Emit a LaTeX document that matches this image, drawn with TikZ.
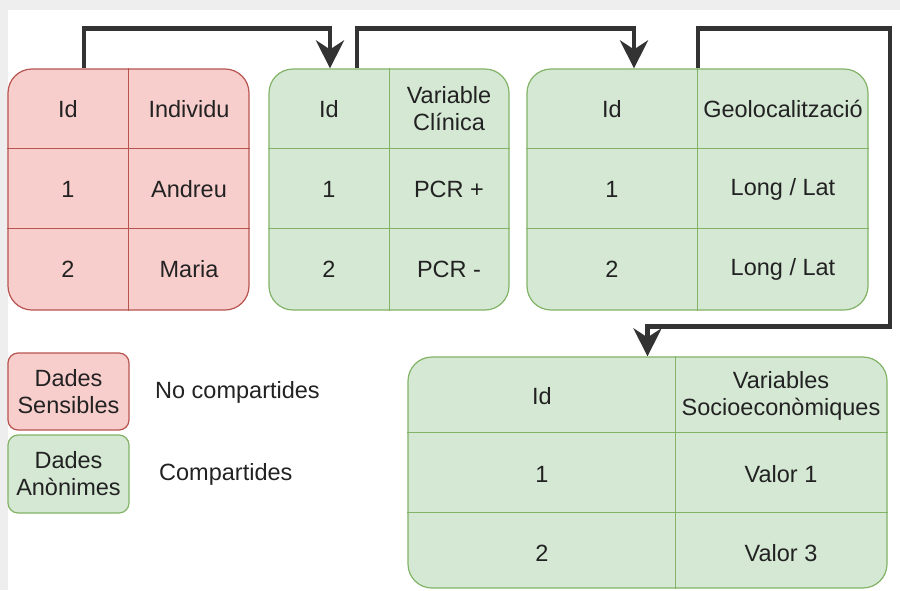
\documentclass[tikz,border=0pt]{standalone}
\usepackage{fontspec}
\setmainfont{Liberation Sans}
\usetikzlibrary{arrows.meta}
\definecolor{sensfill}{HTML}{F8CECC}
\definecolor{sensline}{HTML}{B85450}
\definecolor{anonfill}{HTML}{D5E8D4}
\definecolor{anonline}{HTML}{82B366}
\definecolor{linkgray}{HTML}{333333}
\definecolor{txtgray}{HTML}{222222}
\definecolor{bggray}{HTML}{EEEEEE}
\tikzset{
  tbl/.style={draw, rounded corners=24pt, line width=1.2pt, inner sep=0pt},
  sens/.style={tbl, fill=sensfill, draw=sensline},
  anon/.style={tbl, fill=anonfill, draw=anonline},
  cell/.style={font=\fontsize{23.5}{27}\selectfont, text=txtgray, align=center, inner sep=0pt},
  link/.style={line width=4.5pt, draw=linkgray, -{Stealth[length=28pt,width=28pt,inset=9pt]}}
}
\begin{document}
\begin{tikzpicture}[x=1pt,y=-1pt]
\useasboundingbox (0,0) rectangle (900,590);
\fill[bggray] (0,0) rectangle (900,590);
\fill[white] (8,10) rectangle (900,590);

% tables
\node[sens, minimum width=241pt, minimum height=241pt] (t1) at (128.5,189.5) {};
\node[anon, minimum width=240pt, minimum height=241pt] (t2) at (389,189.5) {};
\node[anon, minimum width=341pt, minimum height=241pt] (t3) at (697.5,189.5) {};
\node[anon, minimum width=479pt, minimum height=231pt] (t4) at (647.5,472.5) {};

% grid lines
\draw[sensline, line width=1pt] ([xshift=121pt]t1.north west) -- ([xshift=121pt]t1.south west);
\foreach \r in {80,160}
  \draw[sensline, line width=1pt] ([yshift=-\r pt]t1.north west) -- ([yshift=-\r pt]t1.north east);
\draw[anonline, line width=1pt] (t2.north) -- (t2.south);
\foreach \r in {80,160}
  \draw[anonline, line width=1pt] ([yshift=-\r pt]t2.north west) -- ([yshift=-\r pt]t2.north east);
\draw[anonline, line width=1pt] ([xshift=171pt]t3.north west) -- ([xshift=171pt]t3.south west);
\foreach \r in {80,160}
  \draw[anonline, line width=1pt] ([yshift=-\r pt]t3.north west) -- ([yshift=-\r pt]t3.north east);
\draw[anonline, line width=1pt] ([xshift=268pt]t4.north west) -- ([xshift=268pt]t4.south west);
\foreach \r in {76,156}
  \draw[anonline, line width=1pt] ([yshift=-\r pt]t4.north west) -- ([yshift=-\r pt]t4.north east);

% cells
\node[cell] (t1id) at (68,109) {Id};
\node[cell] (t1ind) at (189,109) {Individu};
\node[cell] (t1a) at (68,189) {1};
\node[cell] (t1b) at (189,189) {Andreu};
\node[cell] (t1c) at (68,269) {2};
\node[cell] (t1d) at (189,269) {Maria};

\node[cell] (t2id) at (329,109) {Id};
\node[cell] (t2var) at (449,109) {Variable\\Clínica};
\node[cell] (t2a) at (329,189) {1};
\node[cell] (t2b) at (449,189) {PCR +};
\node[cell] (t2c) at (329,269) {2};
\node[cell] (t2d) at (449,269) {PCR -};

\node[cell] (t3id) at (612,109) {Id};
\node[cell] (t3geo) at (783,109) {Geolocalització};
\node[cell] (t3a) at (612,189) {1};
\node[cell] (t3b) at (783,189) {Long / Lat};
\node[cell] (t3c) at (612,269) {2};
\node[cell] (t3d) at (783,269) {Long / Lat};

\node[cell] (t4id) at (542,396) {Id};
\node[cell] (t4var) at (781,396) {Variables\\Socioeconòmiques};
\node[cell] (t4a) at (542,474) {1};
\node[cell] (t4b) at (781,474) {Valor 1};
\node[cell] (t4c) at (542,553) {2};
\node[cell] (t4d) at (781,553) {Valor 3};

% legend
\node[sens, cell, rounded corners=10pt, minimum width=121pt, minimum height=77pt] (lsens) at (68.5,391.5) {Dades\\Sensibles};
\node[anon, cell, rounded corners=10pt, minimum width=121pt, minimum height=78pt] (lanon) at (68.5,474) {Dades\\Anònimes};
\node[cell, anchor=west] (nocomp) at (155,392) {No compartides};
\node[cell, anchor=west] (comp) at (159,474) {Compartides};

% links
\draw[link] ([xshift=-44.5pt]t1.north) -- ++(0,-40) -| ([xshift=-59pt]t2.north);
\draw[link] ([xshift=-32pt]t2.north) -- ++(0,-40) -| ([xshift=-63.5pt]t3.north);
\draw[link] ([xshift=0.5pt]t3.north) -- ++(0,-40) -- ++(192,0) -- ++(0,298) -| (t4.north);
\end{tikzpicture}
\end{document}
